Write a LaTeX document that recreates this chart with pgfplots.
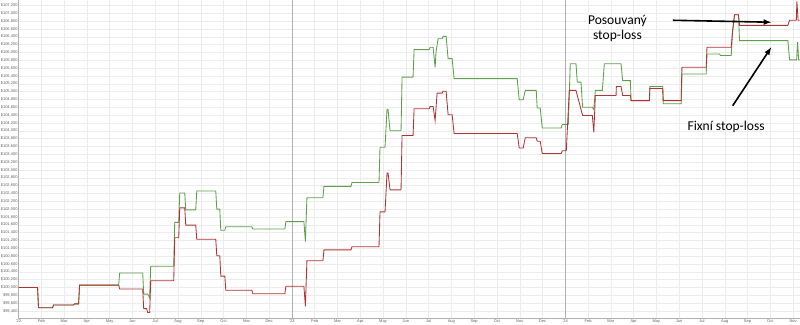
\documentclass[border=0pt]{standalone}
\usepackage{pgfplots}
\pgfplotsset{compat=1.18}
\usepackage{fontspec}
\setmainfont{Liberation Sans}
\newfontfamily\annfont{Carlito}
\definecolor{redline}{HTML}{B03333}
\definecolor{greenline}{HTML}{5E9E4C}
\definecolor{gridc}{HTML}{ECECEC}
\definecolor{yearc}{HTML}{B0B0B0}
\definecolor{tickc}{HTML}{606060}
\begin{document}
\begin{tikzpicture}
\begin{axis}[
  scale only axis,
  width=780pt, height=318pt,
  xmin=0, xmax=34.29,
  ymin=99200, ymax=107330,
  axis x line*=bottom, axis y line*=left,
  axis line style={draw=yearc, line width=0.6pt},
  xtick={0,...,34},
  xticklabels={'22,Feb,Mar,Apr,May,Jun,Jul,Aug,Sep,Oct,Nov,Dec,'23,Feb,Mar,Apr,May,Jun,Jul,Aug,Sep,Oct,Nov,Dec,'24,Feb,Mar,Apr,May,Jun,Jul,Aug,Sep,Oct,Nov},
  ytick={99400,99600,...,107200},
  scaled y ticks=false,
  yticklabel={\$\pgfmathprintnumber[fixed,precision=0,1000 sep={,}]{\tick}},
  /pgf/number format/assume math mode=true,
  tick style={draw=none},
  xmajorgrids, ymajorgrids,
  grid style={draw=gridc, line width=0.4pt},
  ticklabel style={font=\fontsize{4}{4.5}\selectfont, text=tickc},
  xticklabel style={inner sep=0.8pt},
  yticklabel style={inner sep=0.8pt},
  clip=true,
]
% year separator lines
\draw[yearc, line width=0.6pt] (axis cs:12,99200) -- (axis cs:12,107330);
\draw[yearc, line width=0.6pt] (axis cs:24,99200) -- (axis cs:24,107330);

% Fixni stop-loss (green)
\addplot[greenline, line width=0.85pt] coordinates {
(0,100000) (0.835,100000) (0.879,99480) (1.495,99480) (1.538,99550) (2.418,99550) (2.462,99580) (2.637,99580) (2.681,100060) (4.396,100060)
(4.440,100370) (5.451,100370) (5.495,99830) (5.670,99830) (5.758,99740) (5.802,100540) (6.813,100540) (6.857,101660) (7.033,101660)
(7.077,102410) (7.297,102410) (7.341,101980) (7.780,101980) (7.824,102460) (8.659,102460) (8.703,102000) (8.835,102000)
(8.879,101460) (9.055,101460) (9.099,101550) (10.242,101550) (10.286,101490) (11.692,101490) (11.736,101680) (12.527,101680)
(12.593,101170) (12.659,102290) (13.363,102290) (13.407,102580) (14.593,102580) (14.637,102680) (15.824,102680)
(15.868,103580) (16.088,103580) (16.176,104550) (16.220,104550) (16.308,104000) (16.791,104000) (16.835,105370) (17.319,105370)
(17.363,106070) (18.022,106070) (18.066,106130) (18.198,106130) (18.286,105620) (18.330,106030) (18.418,106350) (18.593,106350)
(18.637,106410) (18.769,106410) (18.857,105840) (19.033,105840) (19.121,105330) (21.890,105330) (21.978,104790) (22.154,104790)
(22.242,105030) (22.725,105030) (22.769,104580) (22.901,104580) (22.989,104070) (23.824,104070) (23.868,104160) (24.132,104160)
(24.220,105710) (24.470,105710) (24.527,105240) (24.690,105240) (24.760,104600) (25.187,104600) (25.253,104540) (25.319,105030)
(25.626,105030) (25.714,105710) (26.448,105710) (26.519,105280) (26.857,105280) (26.888,104770) (27.692,104770)
(27.714,105130) (28.277,105130) (28.299,104690) (29.086,104690) (29.121,105450) (30.185,105450) (30.220,105960) (30.769,105960)
(30.813,105920) (31.284,105920) (31.341,106520) (31.429,106960) (31.604,106960) (31.648,106300) (33.771,106300)
(33.846,105810) (34.154,105810) (34.198,106260) (34.242,105810) (34.286,105810)
};

% Posouvany stop-loss (red)
\addplot[redline, line width=0.85pt] coordinates {
(0,100000) (0.835,100000) (0.879,99480) (1.495,99480) (1.538,99550) (2.418,99550) (2.462,99580) (2.637,99580) (2.681,100060) (4.396,100060)
(4.440,99960) (5.451,99960) (5.495,99460) (5.626,99460) (5.670,99360) (5.758,99360) (5.802,100170) (6.813,100170) (6.857,101270) (7.033,101270)
(7.077,102030) (7.297,102030) (7.341,101590) (7.780,101590) (7.824,101230) (8.659,101230) (8.703,100810) (8.835,100810)
(8.879,100290) (9.055,100290) (9.099,99930) (10.242,99930) (10.286,99840) (11.692,99840) (11.736,100030) (12.527,100030)
(12.593,99520) (12.659,100680) (13.363,100680) (13.407,100960) (14.593,100960) (14.637,101040) (15.824,101040)
(15.868,101930) (16.088,101930) (16.176,102920) (16.220,102920) (16.308,102490) (16.791,102490) (16.835,103880) (17.319,103880)
(17.363,104560) (18.022,104560) (18.066,104620) (18.198,104620) (18.286,104260) (18.374,104960) (18.593,104960)
(18.637,105010) (18.769,105010) (18.857,104410) (19.033,104410) (19.121,103930) (21.890,103930) (21.978,103560) (22.154,103560)
(22.242,103820) (22.725,103820) (22.769,103730) (22.901,103730) (22.989,103420) (23.824,103420) (23.868,103490) (24.044,103490)
(24.176,105030) (24.470,105030) (24.646,104640) (24.760,104390) (25.187,104390) (25.253,103960) (25.319,104900)
(26.229,104900) (26.242,105130) (26.448,105130) (26.519,104900) (26.857,104900) (26.888,104770) (27.692,104770)
(27.714,105080) (28.277,105080) (28.299,104770) (29.086,104770) (29.121,105620) (30.185,105620) (30.220,106130) (31.284,106130)
(31.341,106520) (31.429,106960) (31.604,106960) (31.648,106690) (33.771,106690) (33.846,106820) (34.141,106820)
(34.167,107300) (34.220,106820) (34.286,106820)
};

% annotations
\node[font=\annfont\fontsize{13.5}{15}\selectfont, align=center, inner sep=0pt] at (axis cs:26.29,106620) {Posouvaný\\stop-loss};
\draw[-latex, line width=1.6pt] (axis cs:28.72,106820) -- (axis cs:33.04,106770);
\node[font=\annfont\fontsize{13.5}{15}\selectfont, inner sep=0pt] at (axis cs:31.06,104090) {Fixní stop-loss};
\draw[-latex, line width=1.6pt] (axis cs:31.35,104640) -- (axis cs:33.04,106130);
\end{axis}
\end{tikzpicture}
\end{document}
